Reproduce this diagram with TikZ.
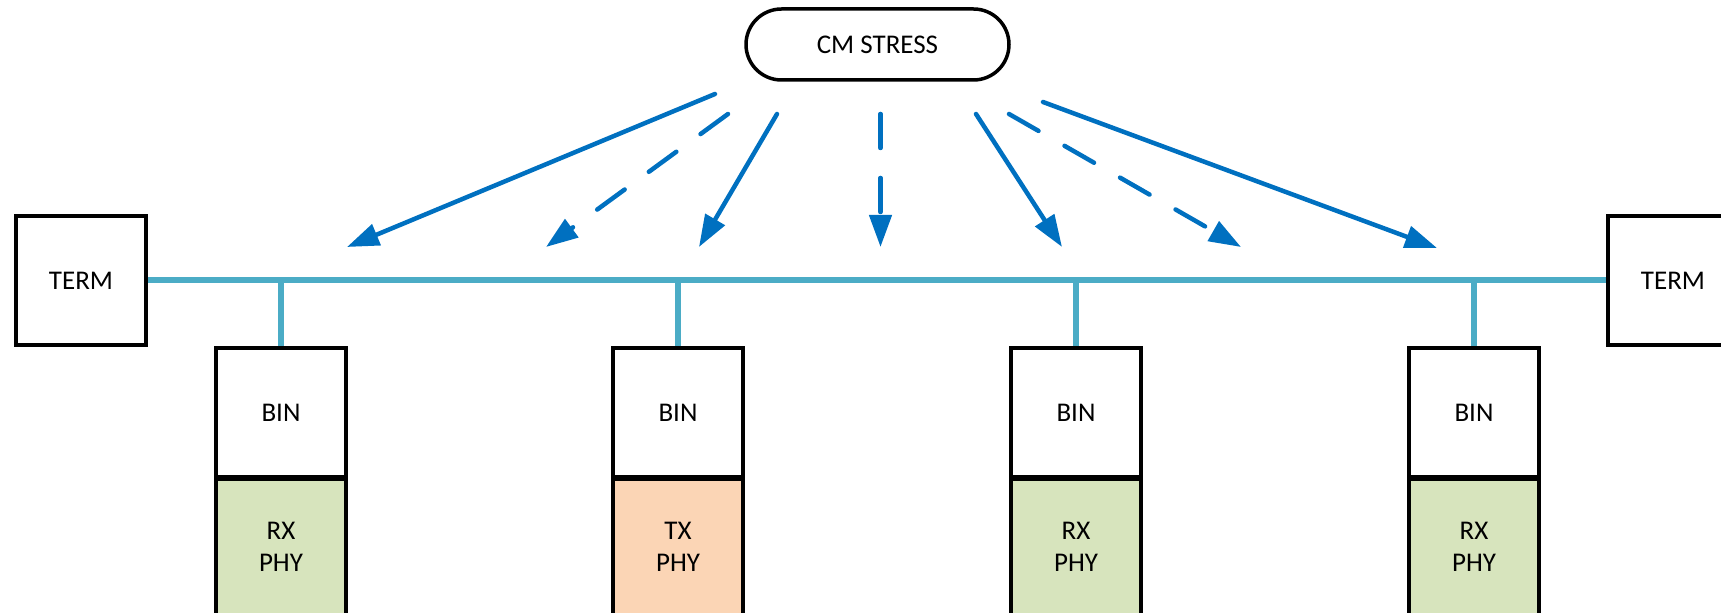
\documentclass[tikz,border=0pt]{standalone}
\usepackage{fontspec}
\setmainfont{Carlito}
\usepackage{tikz}
\usetikzlibrary{arrows.meta,shapes.misc}

\definecolor{stressblue}{HTML}{0070C0}
\definecolor{busaqua}{HTML}{4BACC6}
\definecolor{rxgreen}{HTML}{D7E4BD}
\definecolor{txorange}{HTML}{FBD5B5}

\tikzset{
    blockbox/.style={draw=black, line width=1.75pt, fill=white, inner sep=0pt,
        minimum width=65pt, minimum height=64.5pt, align=center,
        font=\fontsize{13.5}{16}\selectfont},
    busline/.style={busaqua, line width=3pt},
    stressarrow/.style={stressblue, line width=2.25pt, line cap=round,
        -{Triangle[length=16pt,width=11pt]}},
    stressdash/.style={stressarrow, dash pattern=on 17pt off 15pt}
}

\begin{document}
\begin{tikzpicture}[x=0.5pt, y=-0.5pt]
    \clip (0,0) rectangle (1721,613);

    \node[draw=black, line width=1.75pt, rounded rectangle, inner sep=0pt,
        minimum width=131.5pt, minimum height=35.5pt,
        font=\fontsize{13.5}{16}\selectfont] (stress) at (877.5,44.5) {CM STRESS};

    \node[blockbox] (termL) at (81,280.5) {TERM};
    \node[blockbox] (termR) at (1673,280.5) {TERM};
    \draw[busline] (termL) -- (termR);

    \foreach \x/\n/\kind/\col in {281/1/RX/rxgreen, 678/2/TX/txorange,
                                  1076/3/RX/rxgreen, 1474/4/RX/rxgreen} {
        \node[blockbox] (bin\n) at (\x,412.5) {BIN};
        \node[blockbox, fill=\col, minimum height=68pt] (phy\n) at (\x,547) {\kind\\PHY};
        \draw[busline] (bin\n.north |- termL.east) -- (bin\n.north);
    }

    % arrows from the stress source down to the bus
    \foreach \n/\sx/\sy/\ex/\ey/\kind in {
            1/715/94/347/247/stressarrow,
            2/728/114/546/247/stressdash,
            3/777/114/699/247/stressarrow,
            4/880.5/114/880.5/247/stressdash,
            5/976/114/1062/247/stressarrow,
            6/1009/114/1241/247/stressdash,
            7/1043/102/1437/248/stressarrow} {
        \coordinate (from\n) at (\sx,\sy);
        \coordinate (to\n) at (\ex,\ey);
        \draw[\kind] (from\n) -- (to\n);
    }
\end{tikzpicture}
\end{document}
